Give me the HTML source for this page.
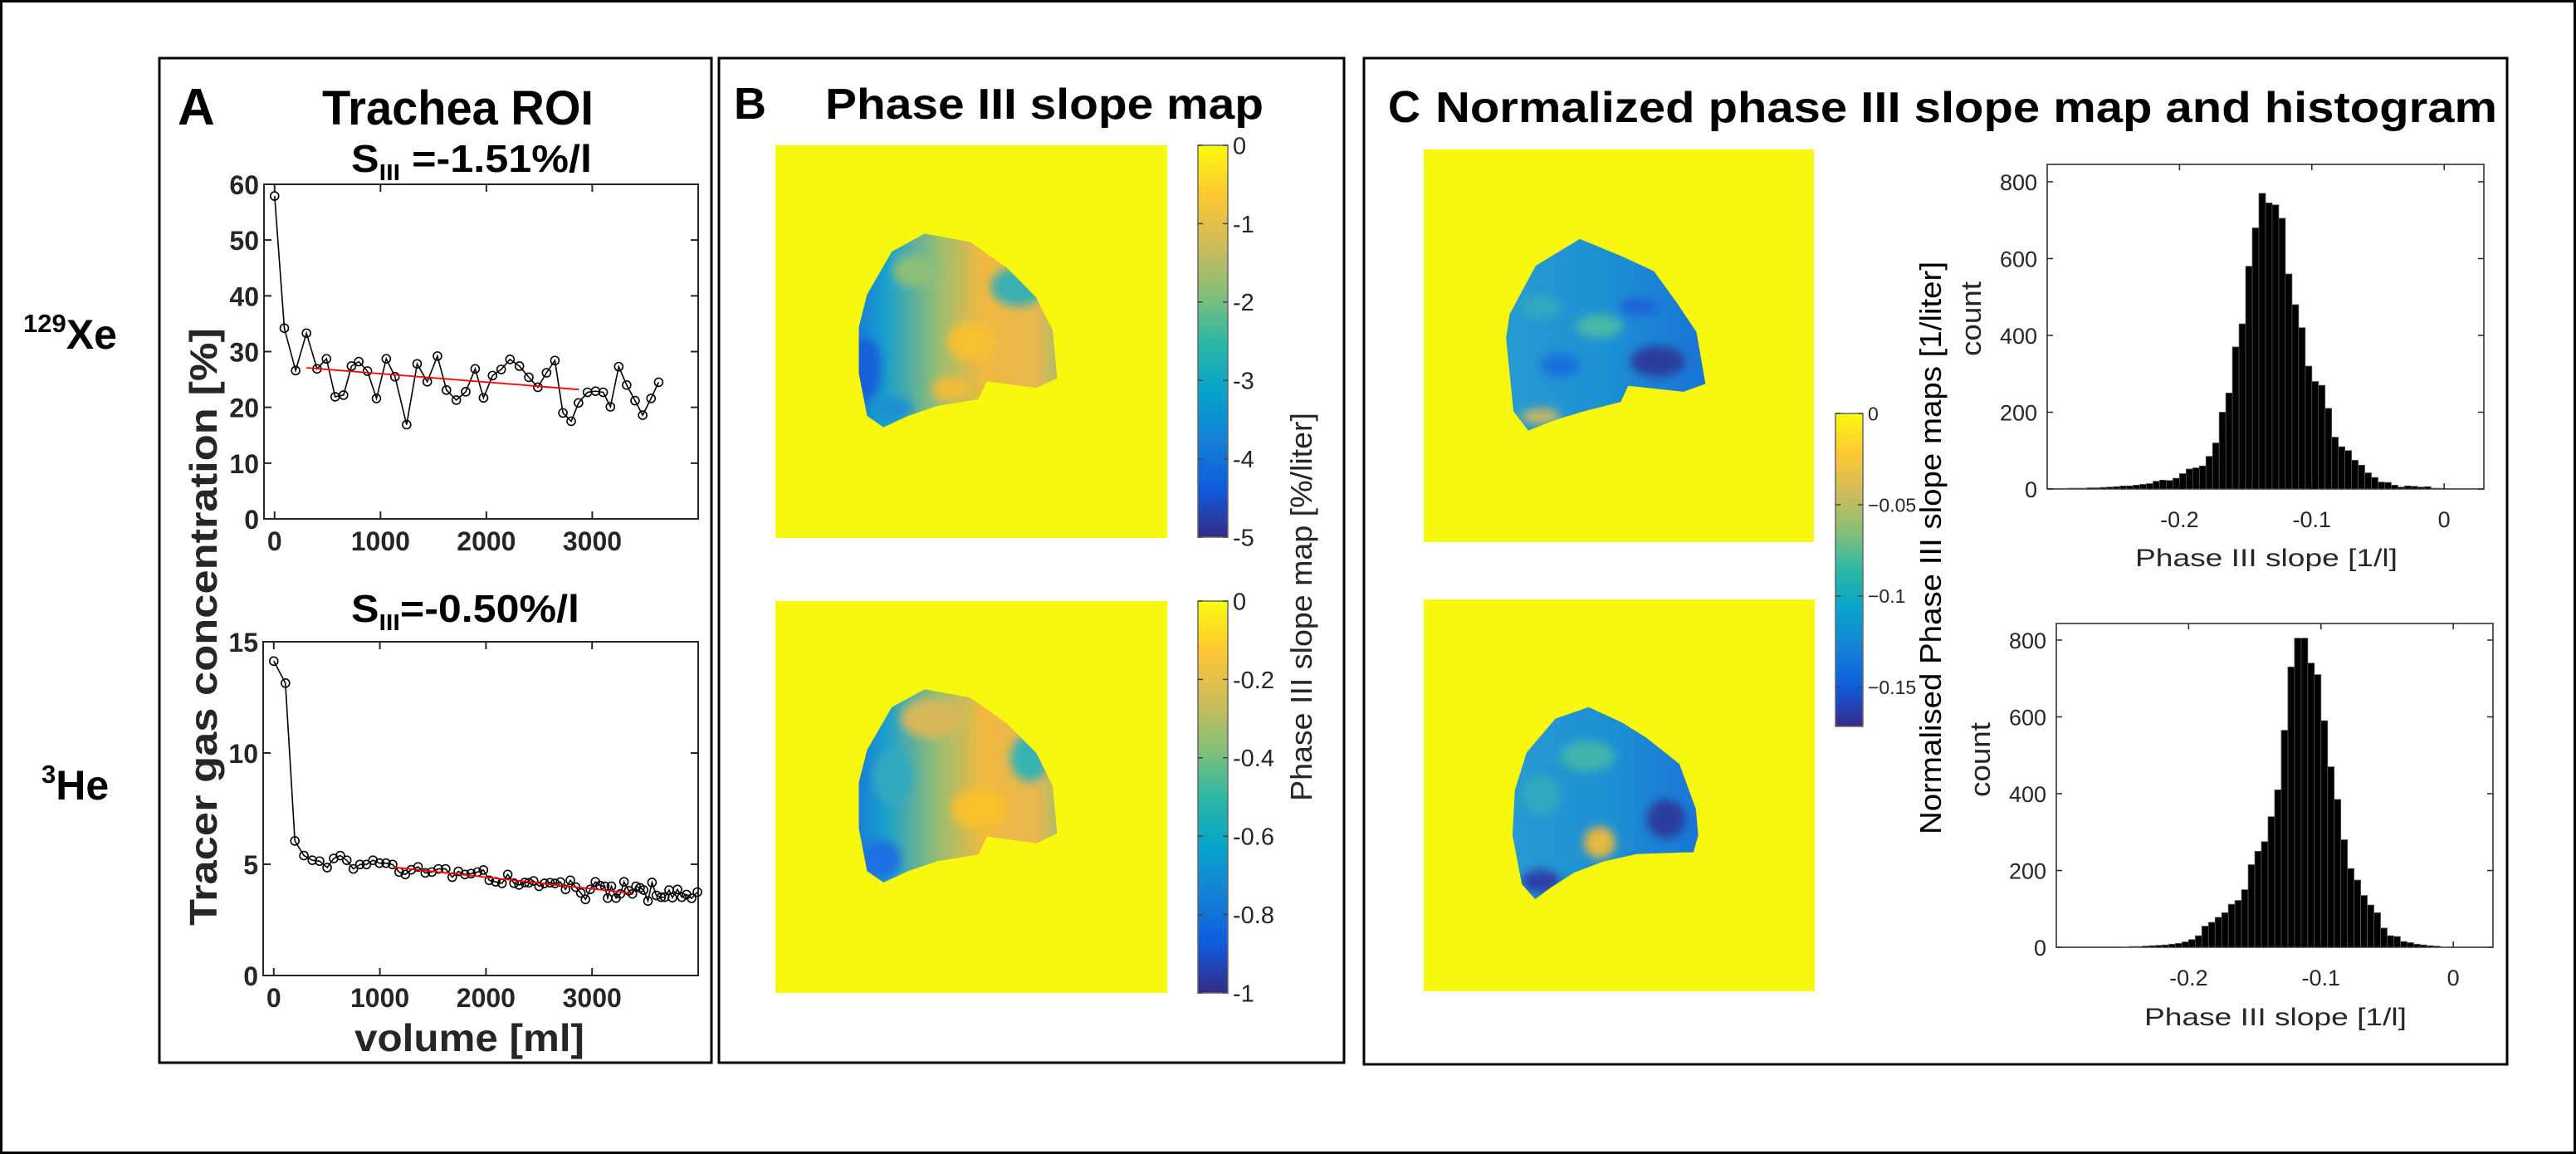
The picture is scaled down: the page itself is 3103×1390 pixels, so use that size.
<!DOCTYPE html>
<html><head><meta charset="utf-8"><title>Phase III slope figure</title>
<style>
html,body{margin:0;padding:0;background:#fff;}
svg{display:block;font-family:"Liberation Sans",Arial,sans-serif;}
.tick{font-size:32px;font-weight:bold;fill:#262626;}
.ht{font-size:27px;fill:#262626;}
.hc{font-size:23px;fill:#262626;}
.cb{font-size:29px;fill:#262626;}
</style></head>
<body>
<svg id="fig" width="3103" height="1390" viewBox="0 0 3103 1390" xmlns="http://www.w3.org/2000/svg">
<defs>
 <linearGradient id="parula" x1="0" y1="1" x2="0" y2="0">
  <stop offset="0" stop-color="#352a87"/><stop offset="0.125" stop-color="#0f5cdd"/>
  <stop offset="0.25" stop-color="#1481d6"/><stop offset="0.375" stop-color="#06a4ca"/>
  <stop offset="0.5" stop-color="#2eb7a4"/><stop offset="0.625" stop-color="#87bf77"/>
  <stop offset="0.75" stop-color="#d1bb59"/><stop offset="0.875" stop-color="#fec832"/>
  <stop offset="1" stop-color="#f9fb0e"/>
 </linearGradient>
 <linearGradient id="bmap" x1="0.2" y1="0" x2="0.75" y2="0">
  <stop offset="0" stop-color="#1a78d8"/><stop offset="0.15" stop-color="#1aa0cc"/>
  <stop offset="0.4" stop-color="#9cbe70"/><stop offset="0.6" stop-color="#f0b840"/>
  <stop offset="0.85" stop-color="#e8b850"/><stop offset="1" stop-color="#8cc07a"/>
 </linearGradient>
 <linearGradient id="cmap" x1="0.2" y1="0" x2="0.75" y2="0">
  <stop offset="0" stop-color="#2a9ad0"/><stop offset="0.5" stop-color="#1c90d4"/>
  <stop offset="1" stop-color="#1a70d8"/>
 </linearGradient>
 <filter id="blur" x="-0.2" y="-0.2" width="1.4" height="1.4"><feGaussianBlur stdDeviation="0.012"/></filter>
 <clipPath id="lungA"><path d="M.381,.225 L.497,.246 L.592,.313 L.666,.388 L.708,.472 L.719,.593 L.666,.618 L.540,.601 L.518,.647 L.413,.664 L.339,.689 L.276,.718 L.234,.689 L.213,.580 L.213,.463 L.234,.380 L.297,.271 Z"/></clipPath>
 <clipPath id="lungC"><path d="M.400,.228 L.505,.271 L.590,.310 L.647,.388 L.699,.465 L.722,.597 L.666,.617 L.524,.602 L.505,.643 L.410,.667 L.334,.690 L.268,.716 L.230,.667 L.211,.481 L.220,.420 L.287,.296 Z"/></clipPath>
 <clipPath id="lungD"><path d="M.422,.275 L.507,.314 L.568,.352 L.654,.420 L.696,.535 L.702,.602 L.690,.645 L.544,.650 L.459,.669 L.385,.697 L.324,.736 L.285,.765 L.251,.727 L.227,.602 L.233,.487 L.263,.391 L.337,.304 Z"/></clipPath>
</defs>

<rect x="1.5" y="1.5" width="3100" height="1387" fill="none" stroke="#000" stroke-width="3"/>
<rect x="192" y="70" width="665" height="1210" fill="none" stroke="#000" stroke-width="3"/>
<rect x="866" y="70" width="753" height="1210" fill="none" stroke="#000" stroke-width="3"/>
<rect x="1643" y="70" width="1377" height="1212" fill="none" stroke="#000" stroke-width="3"/>

<text x="28" y="420" font-weight="bold" font-size="50"><tspan font-size="31" dy="-20">129</tspan><tspan dy="20">Xe</tspan></text>
<text x="50" y="963" font-weight="bold" font-size="50"><tspan font-size="31" dy="-20">3</tspan><tspan dy="20">He</tspan></text>

<!-- Panel A -->
<text x="214" y="150" font-weight="bold" font-size="62">A</text>
<text x="388" y="150" font-weight="bold" font-size="58" textLength="327" lengthAdjust="spacingAndGlyphs">Trachea ROI</text>
<text x="423" y="207" font-weight="bold" font-size="46" textLength="290" lengthAdjust="spacingAndGlyphs">S<tspan font-size="28" dy="10">III</tspan><tspan dy="-10"> =-1.51%/l</tspan></text>
<text x="423" y="749" font-weight="bold" font-size="46" textLength="275" lengthAdjust="spacingAndGlyphs">S<tspan font-size="28" dy="10">III</tspan><tspan dy="-10">=-0.50%/l</tspan></text>
<text transform="translate(261,755) rotate(-90)" text-anchor="middle" font-weight="bold" font-size="46" fill="#262626" textLength="720" lengthAdjust="spacingAndGlyphs">Tracer gas concentration [%]</text>
<text x="427" y="1266" font-weight="bold" font-size="46" fill="#262626" textLength="277" lengthAdjust="spacingAndGlyphs">volume [ml]</text>
<g id="plotA1"></g>
<g id="plotA2"></g>

<!-- Panel B -->
<text x="884" y="143" font-weight="bold" font-size="54">B</text>
<text x="994" y="143" font-weight="bold" font-size="52" textLength="528" lengthAdjust="spacingAndGlyphs">Phase III slope map</text>

<g>
 <rect x="934" y="175" width="472" height="473" fill="#f8f80e"/>
 <g transform="translate(934,175) scale(472,473)" clip-path="url(#lungA)">
  <rect x="0" y="0" width="1" height="1" fill="url(#bmap)"/>
  <g filter="url(#blur)">
   <ellipse cx=".62" cy=".36" rx=".07" ry=".05" fill="#3ab0b0"/>
   <ellipse cx=".36" cy=".32" rx=".06" ry=".04" fill="#8cbf78"/>
   <ellipse cx=".23" cy=".57" rx=".04" ry=".08" fill="#1560d8"/>
   <ellipse cx=".3" cy=".67" rx=".05" ry=".03" fill="#1a90d0"/>
   <ellipse cx=".5" cy=".5" rx=".06" ry=".05" fill="#f8c030"/>
   <ellipse cx=".45" cy=".62" rx=".05" ry=".03" fill="#f0bc3a"/>
  </g>
 </g>
</g>
<g>
 <rect x="934" y="724" width="472" height="472" fill="#f8f80e"/>
 <g transform="translate(934,724) scale(472,472)" clip-path="url(#lungA)">
  <rect x="0" y="0" width="1" height="1" fill="url(#bmap)"/>
  <g filter="url(#blur)">
   <ellipse cx=".4" cy=".3" rx=".08" ry=".05" fill="#d8b85a"/>
   <ellipse cx=".65" cy=".4" rx=".05" ry=".06" fill="#38b2b0"/>
   <ellipse cx=".27" cy=".66" rx=".05" ry=".05" fill="#1a70e0"/>
   <ellipse cx=".3" cy=".45" rx=".05" ry=".07" fill="#30a8c0"/>
   <ellipse cx=".52" cy=".53" rx=".07" ry=".05" fill="#fac02c"/>
  </g>
 </g>
</g>
<rect x="1443" y="175" width="36" height="472" fill="url(#parula)" stroke="#666" stroke-width="1.5"/>
<rect x="1443" y="724" width="36" height="472" fill="url(#parula)" stroke="#666" stroke-width="1.5"/>
<g id="cbB1"></g>
<g id="cbB2"></g>
<text transform="translate(1580,731) rotate(-90)" text-anchor="middle" font-size="36" fill="#262626" textLength="468" lengthAdjust="spacingAndGlyphs">Phase III slope map [%/liter]</text>

<!-- Panel C -->
<text x="1672" y="147" font-weight="bold" font-size="54">C</text>
<text x="1729" y="147" font-weight="bold" font-size="52" textLength="1279" lengthAdjust="spacingAndGlyphs">Normalized phase III slope map and histogram</text>
<g>
 <rect x="1715" y="180" width="470" height="473" fill="#f8f80e"/>
 <g transform="translate(1715,180) scale(470,473)" clip-path="url(#lungC)">
  <rect x="0" y="0" width="1" height="1" fill="url(#cmap)"/>
  <g filter="url(#blur)">
   <ellipse cx=".45" cy=".45" rx=".06" ry=".03" fill="#4ab8a8"/>
   <ellipse cx=".35" cy=".55" rx=".05" ry=".03" fill="#1470dc"/>
   <ellipse cx=".6" cy=".54" rx=".07" ry=".04" fill="#2a3c9c"/>
   <ellipse cx=".55" cy=".4" rx=".05" ry=".02" fill="#1a60d8"/>
   <ellipse cx=".3" cy=".68" rx=".05" ry=".02" fill="#c8b860"/>
   <ellipse cx=".3" cy=".4" rx=".05" ry=".03" fill="#30a8c0"/>
  </g>
 </g>
</g>
<g>
 <rect x="1715" y="722" width="471" height="472" fill="#f8f80e"/>
 <g transform="translate(1715,722) scale(471,472)" clip-path="url(#lungD)">
  <rect x="0" y="0" width="1" height="1" fill="url(#cmap)"/>
  <g filter="url(#blur)">
   <ellipse cx=".45" cy=".62" rx=".04" ry=".04" fill="#e8b840"/>
   <ellipse cx=".42" cy=".4" rx=".07" ry=".04" fill="#40b4ac"/>
   <ellipse cx=".62" cy=".56" rx=".05" ry=".05" fill="#2a3c9c"/>
   <ellipse cx=".3" cy=".72" rx=".05" ry=".03" fill="#2a40a8"/>
   <ellipse cx=".3" cy=".5" rx=".05" ry=".05" fill="#30a8c0"/>
  </g>
 </g>
</g>
<rect x="2211" y="498" width="33" height="377" fill="url(#parula)" stroke="#666" stroke-width="1.5"/>
<g id="cbC"></g>
<text transform="translate(2338,660) rotate(-90)" text-anchor="middle" font-size="36" fill="#000" textLength="690" lengthAdjust="spacingAndGlyphs">Normalised Phase III slope maps [1/liter]</text>

<g id="hist1"></g>
<g id="hist2"></g>
<text transform="translate(2386,384) rotate(-90)" text-anchor="middle" font-size="34" fill="#262626" textLength="90" lengthAdjust="spacingAndGlyphs">count</text>
<text transform="translate(2397,915) rotate(-90)" text-anchor="middle" font-size="34" fill="#262626" textLength="90" lengthAdjust="spacingAndGlyphs">count</text>
<text x="2572" y="682" font-size="30" fill="#262626" textLength="316" lengthAdjust="spacingAndGlyphs">Phase III slope [1/l]</text>
<text x="2583" y="1235" font-size="30" fill="#262626" textLength="316" lengthAdjust="spacingAndGlyphs">Phase III slope [1/l]</text>
</svg>

<script>
// ---- data ----
const xeVol = [0,92,199,301,401,490,572,651,726,795,877,962,1055,1137,1247,1346,1442,1538,1623,1716,1805,1894,1973,2058,2140,2223,2312,2401,2486,2568,2647,2723,2801,2870,2955,3031,3103,3171,3250,3325,3404,3476,3555,3627];
const xeConc = [57.9,34.2,26.6,33.3,26.9,28.7,21.9,22.2,27.4,28.2,26.5,21.6,28.7,25.5,16.9,27.8,24.6,29.2,23.1,21.3,22.8,26.9,21.7,25.7,26.8,28.6,27.4,25.4,23.6,26.2,28.4,19.0,17.5,20.8,22.7,22.9,22.7,20.1,27.3,24.0,21.2,18.6,21.6,24.5];
const xeFitVol = [301,2873];
const xeFitConc = [27.1,23.2];
const heVol = [0,110,199,284,363,432,503,565,627,688,750,812,873,935,997,1058,1120,1182,1240,1295,1360,1428,1490,1551,1620,1682,1740,1801,1860,1921,1976,2031,2092,2151,2205,2264,2312,2366,2404,2449,2500,2551,2603,2651,2702,2750,2795,2846,2894,2938,2983,3031,3075,3120,3147,3182,3226,3267,3301,3346,3380,3414,3452,3486,3527,3565,3606,3651,3685,3726,3757,3805,3846,3890,3938,3993];
const heConc = [14.13,13.14,6.05,5.39,5.18,5.14,4.85,5.26,5.39,5.18,4.79,4.99,4.99,5.18,5.05,5.05,4.99,4.65,4.54,4.75,4.88,4.61,4.65,4.79,4.79,4.42,4.68,4.54,4.58,4.65,4.74,4.28,4.21,4.14,4.54,4.15,4.07,4.18,4.17,4.25,4.01,4.14,4.17,4.14,4.2,3.87,4.28,3.97,3.71,3.42,3.87,4.21,4.04,4.01,3.48,4.01,3.48,3.67,4.21,3.81,3.67,4.01,3.94,3.84,3.35,4.18,3.6,3.52,3.52,3.84,3.5,3.87,3.52,3.64,3.47,3.75];
const heFitVol = [1130,3377];
const heFitConc = [4.87,3.70];
const volTicks = [0,1000,2000,3000];
const xeConcTicks = [0,10,20,30,40,50,60];
const heConcTicks = [0,5,10,15];
// histograms: bin start -0.3, width 0.005
const histBinStart = -0.3;
const histBinWidth = 0.005;
const xeCounts = [1,1,1,2,2,2,3,3,4,5,6,8,8,10,12,14,20,23,22,28,40,52,55,60,85,120,200,250,370,430,580,680,770,745,740,705,560,480,420,320,280,270,210,135,110,100,75,62,42,30,18,17,10,5,8,7,5,6,2,2,1,1,1,1,1];
const heCounts = [0,0,0,0,0,0,0,0,0,0,1,2,2,3,4,5,6,8,10,14,20,30,55,65,78,90,112,122,150,215,250,275,340,410,565,730,805,805,740,710,590,470,385,280,205,175,135,110,90,50,30,28,15,12,8,6,4,3,1,0];
const histXTicks = [-0.2,-0.1,0];
const histXTickLabels = ['-0.2','-0.1','0'];
const histYTicks = [0,200,400,600,800];
const cbB1Ticks = [0,-1,-2,-3,-4,-5];
const cbB2Ticks = [0,-0.2,-0.4,-0.6,-0.8,-1];
const cbCTicks = [0,-0.05,-0.1,-0.15];
const cbCTickLabels = ['0','\u22120.05','\u22120.1','\u22120.15'];

const NS = 'http://www.w3.org/2000/svg';
function mk(parent, tag, attrs, txt){
  const e = document.createElementNS(NS, tag);
  for (const k in attrs) e.setAttribute(k, attrs[k]);
  if (txt !== undefined) e.textContent = txt;
  parent.appendChild(e);
  return e;
}
function lin(d0,d1,r0,r1){ return v => r0 + (v-d0)/(d1-d0)*(r1-r0); }

function linePlot(gid, box, ymax, yTicks, vol, conc, fv, fc){
  const g = document.getElementById(gid);
  const sx = lin(-100,4000,box.x0,box.x1), sy = lin(0,ymax,box.y1,box.y0);
  const frame = mk(g,'rect',{x:box.x0,y:box.y0,width:box.x1-box.x0,height:box.y1-box.y0,fill:'#fff',stroke:'#262626','stroke-width':2});
  
  
  yTicks.forEach(t=>{
    const y = sy(t);
    const tk = mk(g,'path',{d:`M${box.x0},${y}h9M${box.x1},${y}h-9`,stroke:'#262626','stroke-width':2});
    
    
    const lb = mk(g,'text',{x:box.x0-6,y:y+12,'text-anchor':'end','class':'tick'},String(t));
    
    
  });
  volTicks.forEach(t=>{
    const x = sx(t);
    const tk = mk(g,'path',{d:`M${x},${box.y1}v-9M${x},${box.y0}v9`,stroke:'#262626','stroke-width':2});
    
    
    const lb = mk(g,'text',{x:x,y:box.y1+38,'text-anchor':'middle','class':'tick'},String(t));
    
    
  });
  const pts = vol.map((v,i)=>sx(v).toFixed(1)+','+sy(conc[i]).toFixed(1)).join(' ');
  const pl = mk(g,'polyline',{points:pts,fill:'none',stroke:'#000','stroke-width':1.6});
  
  
  vol.forEach((v,i)=>{
    const c = mk(g,'circle',{cx:sx(v),cy:sy(conc[i]),r:5,fill:'none',stroke:'#000','stroke-width':1.6});
    
    
  });
  const fit = mk(g,'line',{x1:sx(fv[0]),y1:sy(fc[0]),x2:sx(fv[1]),y2:sy(fc[1]),stroke:'#ff0000','stroke-width':1.8});
  
  
}
linePlot('plotA1',{x0:318,x1:841,y0:222,y1:625},60,xeConcTicks,xeVol,xeConc,xeFitVol,xeFitConc);
linePlot('plotA2',{x0:317,x1:841,y0:773,y1:1175},15,heConcTicks,heVol,heConc,heFitVol,heFitConc);

function histogram(gid, box, counts){
  const g = document.getElementById(gid);
  const sx = lin(-0.3,0.03,box.x0,box.x1), sy = lin(0,800,box.y1,box.ymax);
  const frame = mk(g,'rect',{x:box.x0,y:box.y0,width:box.x1-box.x0,height:box.y1-box.y0,fill:'#fff',stroke:'#262626','stroke-width':1.5});
  
  
  counts.forEach((c,i)=>{
    const a = histBinStart + i*histBinWidth, b = a + histBinWidth;
    const x = sx(a), w = sx(b)-sx(a), y = sy(c);
    const r = mk(g,'rect',{x:x,y:y,width:w,height:box.y1-y,fill:'#000',stroke:'#555','stroke-width':0.8});
    
    
  });
  histYTicks.forEach(t=>{
    const y = sy(t);
    const tk = mk(g,'path',{d:`M${box.x0},${y}h7M${box.x1},${y}h-7`,stroke:'#262626','stroke-width':1.5});
    
    
    const lb = mk(g,'text',{x:box.x0-12,y:y+10,'text-anchor':'end','class':'ht'},String(t));
    
    
  });
  histXTicks.forEach((t,i)=>{
    const x = sx(t);
    const tk = mk(g,'path',{d:`M${x},${box.y1}v-7M${x},${box.y0}v7`,stroke:'#262626','stroke-width':1.5});
    
    
    const lb = mk(g,'text',{x:x,y:box.y1+46,'text-anchor':'middle','class':'ht'},histXTickLabels[i]);
    
    
  });
}
histogram('hist1',{x0:2466,x1:2992,y0:198,y1:589,ymax:219},xeCounts);
histogram('hist2',{x0:2477,x1:3003,y0:751,y1:1141,ymax:771},heCounts);

function colorbarTicks(gid, x0, x1, y0, y1, vmin, ticks, labels, cls, fs){
  const g = document.getElementById(gid);
  const sy = lin(0,vmin,y0,y1);
  ticks.forEach((t,i)=>{
    const y = sy(t);
    const tk = mk(g,'path',{d:`M${x1},${y}h-6M${x0},${y}h6`,stroke:'#444','stroke-width':1.5});
    
    
    const lb = mk(g,'text',{x:x1+6,y:y+fs*0.36,'class':cls},labels ? labels[i] : String(t));
    
    
  });
}
colorbarTicks('cbB1',1443,1479,175,647,-5,cbB1Ticks,null,'cb',29);
colorbarTicks('cbB2',1443,1479,724,1196,-1,cbB2Ticks,null,'cb',29);
colorbarTicks('cbC',2211,2244,498,875,-0.1714,cbCTicks,cbCTickLabels,'hc',23);
</script>
</body></html>
